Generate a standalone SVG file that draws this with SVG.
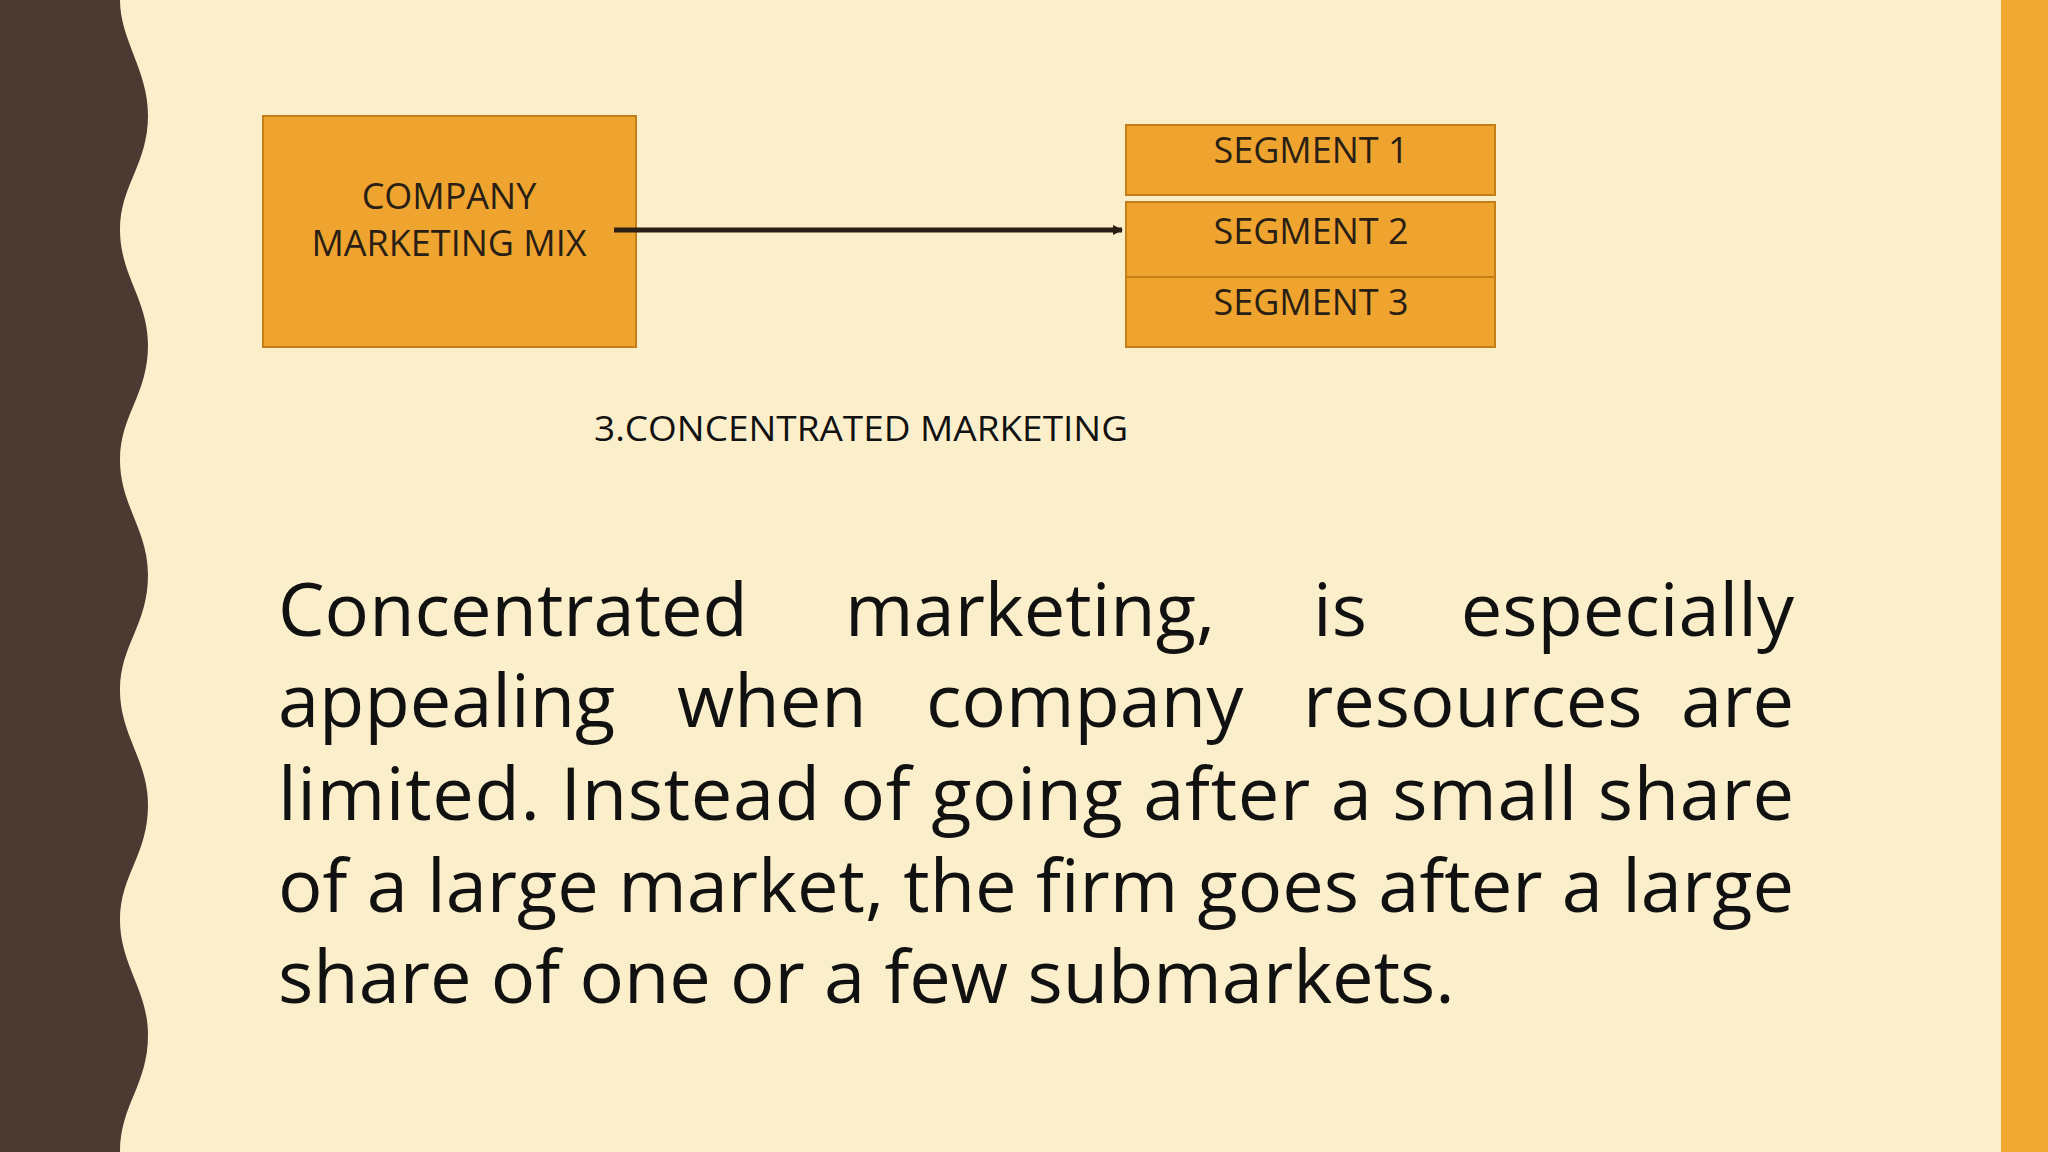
<svg xmlns="http://www.w3.org/2000/svg" width="2048" height="1152" viewBox="0 0 2048 1152">
<defs>
<style>
.box{fill:#F0A430;stroke:#C47F17;stroke-width:2}
.lbl{font-family:"Open Sans","Noto Sans",sans-serif;font-size:36px;fill:#2a1f14;text-anchor:middle}
.para{font-family:"Open Sans","Noto Sans",sans-serif;font-size:74px;fill:#111}
</style>
<marker id="ah" markerWidth="10" markerHeight="10" refX="9" refY="5" orient="auto" markerUnits="userSpaceOnUse" viewBox="0 0 10 10"><path d="M0,0 L10,5 L0,10 Z" fill="#2a1f14"/></marker>
</defs>
<rect width="2048" height="1152" fill="#FBEFCB"/>
<path d="M0,0 L120,0 C120,40 148,70 148,115 C148,165 120,185 120,230 C120,275 148,300 148,345 C148,395 120,415 120,460 C120,505 148,530 148,575 C148,625 120,645 120,690 C120,735 148,760 148,805 C148,855 120,875 120,920 C120,965 148,990 148,1035 C148,1085 120,1105 120,1152 L0,1152 Z" fill="#4B3A32"/>
<rect x="2001" y="0" width="47" height="1152" fill="#F0A830"/>
<g id="company"><rect class="box" x="263" y="116" width="373" height="231"/>
<text class="lbl" x="449" y="209">COMPANY</text><text class="lbl" x="449" y="256">MARKETING MIX</text></g>
<g id="seg1"><rect class="box" x="1126" y="125" width="369" height="70"/><text class="lbl" x="1311" y="163">SEGMENT 1</text></g>
<g id="seg2"><rect class="box" x="1126" y="202" width="369" height="75"/><text class="lbl" x="1311" y="244">SEGMENT 2</text></g>
<g id="seg3"><rect class="box" x="1126" y="277" width="369" height="70"/><text class="lbl" x="1311" y="315">SEGMENT 3</text></g>
<g id="connectors"><line x1="614" y1="230" x2="1122" y2="230" stroke="#2a1f14" stroke-width="5" marker-end="url(#ah)"/></g>
<text x="594" y="441" font-family="Open Sans,Noto Sans,sans-serif" font-size="34" fill="#111" textLength="534" lengthAdjust="spacingAndGlyphs">3.CONCENTRATED MARKETING</text>
<g class="para">
<text x="278" y="636">Concentrated</text><text x="845" y="636">marketing,</text><text x="1313" y="636">is</text><text x="1794" y="636" text-anchor="end">especially</text>
<text x="278" y="727">appealing</text><text x="677" y="727">when</text><text x="926" y="727">company</text><text x="1303" y="727">resources</text><text x="1794" y="727" text-anchor="end">are</text>
<text x="278" y="820" textLength="1516" lengthAdjust="spacing">limited. Instead of going after a small share</text>
<text x="278" y="912" textLength="1516" lengthAdjust="spacing">of a large market, the firm goes after a large</text>
<text x="278" y="1003">share of one or a few submarkets.</text>
</g>
</svg>
